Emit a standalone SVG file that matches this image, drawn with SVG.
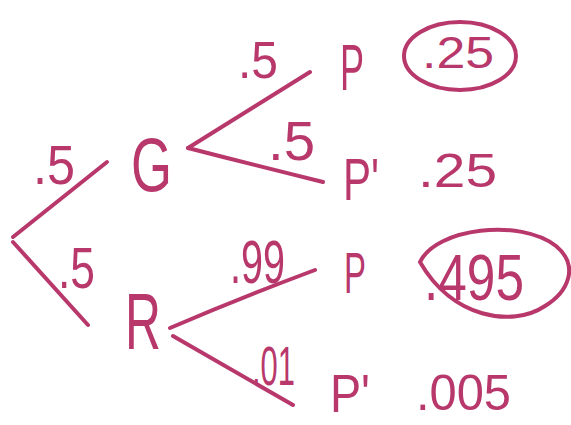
<svg xmlns="http://www.w3.org/2000/svg" width="571" height="425" viewBox="0 0 571 425">
<style>
.ink{stroke:#b8386c;stroke-width:4;stroke-linecap:round;fill:none}
text{fill:#b8386c;font-family:"Liberation Sans","DejaVu Sans",sans-serif}
</style>
<rect width="571" height="425" fill="#ffffff"/>
<g id="connectors">
<path class="ink" d="M13,237 L107,162"/>
<path class="ink" d="M13,242 L88,325"/>
<path class="ink" d="M188,148 L310,72"/>
<path class="ink" d="M188,148 Q258,166 323,182"/>
<path class="ink" d="M170,328 Q240,298 315,270"/>
<path class="ink" d="M173,336 L293,405"/>
</g>
<g id="edge-labels">
<text x="33" y="184" font-size="56" textLength="42" lengthAdjust="spacingAndGlyphs">.5</text>
<text x="58" y="288" font-size="58" textLength="37" lengthAdjust="spacingAndGlyphs">.5</text>
<text x="238" y="78" font-size="52" textLength="40" lengthAdjust="spacingAndGlyphs">.5</text>
<text x="268" y="160" font-size="56" textLength="47" lengthAdjust="spacingAndGlyphs">.5</text>
<text x="230" y="283" font-size="62" textLength="55" lengthAdjust="spacingAndGlyphs">.99</text>
<text x="252" y="385" font-size="55" textLength="43" lengthAdjust="spacingAndGlyphs">.01</text>
</g>
<g id="node-G"><text x="131" y="191" font-size="76" textLength="41" lengthAdjust="spacingAndGlyphs">G</text></g>
<g id="node-R"><text x="125" y="349" font-size="80" textLength="36" lengthAdjust="spacingAndGlyphs">R</text></g>
<g id="node-GP"><text x="340" y="90" font-size="65" textLength="24" lengthAdjust="spacingAndGlyphs">P</text></g>
<g id="node-GPp"><text x="343" y="200" font-size="60" textLength="36" lengthAdjust="spacingAndGlyphs">P'</text></g>
<g id="node-RP"><text x="344" y="293" font-size="58" textLength="22" lengthAdjust="spacingAndGlyphs">P</text></g>
<g id="node-RPp"><text x="330" y="412" font-size="54" textLength="40" lengthAdjust="spacingAndGlyphs">P'</text></g>
<g id="result-1">
<ellipse class="ink" cx="460" cy="56" rx="56" ry="34" stroke-width="3"/>
<text x="422" y="68" font-size="44" textLength="72" lengthAdjust="spacingAndGlyphs">.25</text>
</g>
<g id="result-2"><text x="418" y="187" font-size="48" textLength="79" lengthAdjust="spacingAndGlyphs">.25</text></g>
<g id="result-3">
<path class="ink" stroke-width="3" d="M420,262 C436,228 520,218 556,246 C580,266 568,292 545,306 C512,328 452,318 420,262 Z"/>
<text x="424" y="300" font-size="64" textLength="100" lengthAdjust="spacingAndGlyphs">.495</text>
</g>
<g id="result-4"><text x="416" y="410" font-size="50" textLength="95" lengthAdjust="spacingAndGlyphs">.005</text></g>
</svg>
